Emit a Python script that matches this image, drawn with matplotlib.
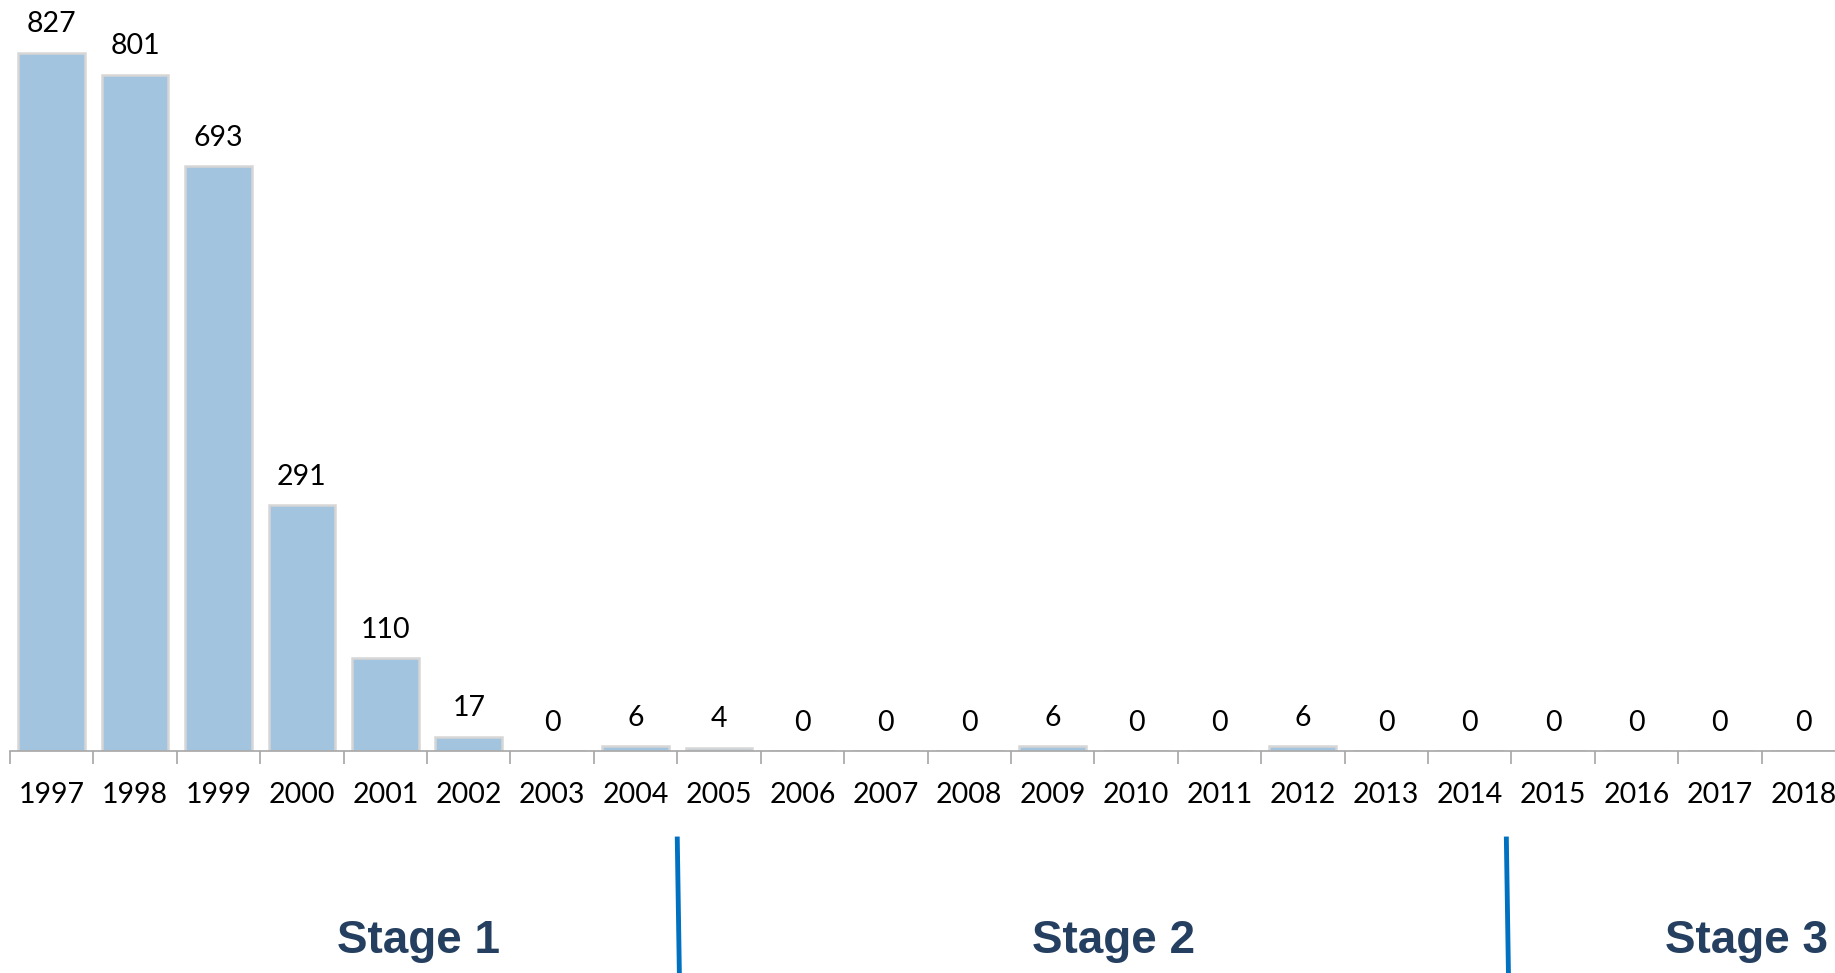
import matplotlib
matplotlib.use("Agg")
import matplotlib.pyplot as plt
import matplotlib.transforms as mtransforms
import numpy as np

years = [str(y) for y in range(1997, 2019)]
counts = [827, 801, 693, 291, 110, 17, 0, 6, 4, 0, 0, 0, 6, 0, 0, 6, 0, 0, 0, 0, 0, 0]

stage_names = ["Stage 1", "Stage 2", "Stage 3"]
stage_breaks = [7.5, 17.44]           # separators, roughly at category boundaries
stage_text_x = [0.228, 0.607, 0.952]  # figure fractions

BAR = "#a3c4de"
EDGE = "#d6d6d6"
AXIS = "#a6a6a6"
LINE = "#0070c0"
NAVY = "#243f60"

W, H = 1835, 973
fig = plt.figure(figsize=(W / 100, H / 100), dpi=100)
ax = fig.add_axes([10 / W, 1 - 751 / H, 1835 / W, 743 / H])

x = np.arange(len(years))
bars = ax.bar(x, counts, width=0.8, color=BAR, edgecolor=EDGE, linewidth=1.8)

for xi, v in zip(x, counts):
    ax.annotate(f"{v}", (xi, v), xytext=(0, 11), textcoords="offset points",
                ha="center", va="bottom", fontsize=20.5, family="Lato", color="black")

ax.set_xlim(-0.5, len(years) - 0.5)
ax.set_ylim(0, 880)
ax.set_yticks([])
for s in ["top", "right", "left"]:
    ax.spines[s].set_visible(False)
ax.spines["bottom"].set_color(AXIS)
ax.spines["bottom"].set_linewidth(1.2)

ax.set_xticks(x)
ax.set_xticklabels(years, fontsize=20.5, family="Lato")
ax.tick_params(axis="x", which="major", length=0, pad=22)
ax.set_xticks(np.arange(-0.5, len(years), 1.0), minor=True)
ax.tick_params(axis="x", which="minor", length=9, width=1.2, color=AXIS)

# stage separators below the axis
trans = mtransforms.blended_transform_factory(ax.transData, fig.transFigure)
for b in stage_breaks:
    ax.plot([b, b + 0.025], [1 - 839 / H, 0], color=LINE, lw=3.5,
            transform=trans, clip_on=False)

for name, tx in zip(stage_names, stage_text_x):
    fig.text(tx, 1 - 941 / H, name, ha="center", va="center", fontsize=33,
             fontweight="bold", family="Liberation Sans", color=NAVY)

fig.savefig("out.png", dpi=100)
